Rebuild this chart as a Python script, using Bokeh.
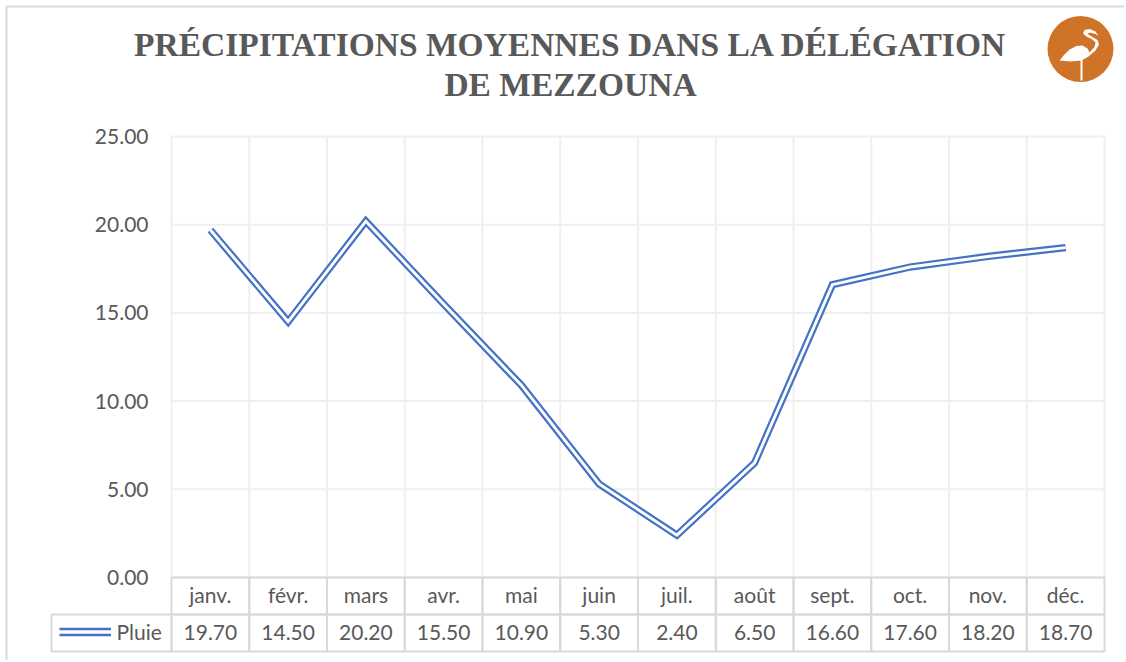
from bokeh.plotting import figure
from bokeh.models import Label, LinearAxis, FixedTicker, Range1d
from bokeh.embed import file_html
from bokeh.resources import INLINE

title_lines = ["PRÉCIPITATIONS MOYENNES DANS LA DÉLÉGATION", "DE MEZZOUNA"]
months = ["janv.", "févr.", "mars", "avr.", "mai", "juin", "juil.", "août", "sept.", "oct.", "nov.", "déc."]
pluie = [19.70, 14.50, 20.20, 15.50, 10.90, 5.30, 2.40, 6.50, 16.60, 17.60, 18.20, 18.70]
series_name = "Pluie"
y_ticks = [0, 5, 10, 15, 20, 25]

TXT = "#595959"
LINE = "#d9d9d9"
GRID = "#efefef"
BLUE = "#4472c4"
ORANGE = "#cf7326"
FONT = "Lato"
W, H = 1124, 660
L, R, T, B = 171, 1104, 136, 577

def X(px):
    return (px - L) / (R - L) * 12
def Y(py):
    return (B - py) / (B - T) * 25

p = figure(width=W, height=H, output_backend="svg", toolbar_location=None,
           x_range=Range1d(X(0), X(W)), y_range=Range1d(Y(H), Y(0)),
           min_border=0, x_axis_location=None, y_axis_location=None, outline_line_color=None,
           margin=(0, 0, 0, 0))
p.grid.visible = False
p.background_fill_color = "white"

yax = LinearAxis(ticker=FixedTicker(ticks=y_ticks), axis_line_color=None, fixed_location=0,
                 major_tick_line_color=None, minor_tick_line_color=None,
                 major_label_text_font=FONT, major_label_text_font_size="21px",
                 major_label_text_color=TXT, major_label_standoff=17,
                 major_label_overrides={t: f"{t:.2f}" for t in y_ticks})
p.add_layout(yax, "left")

centers = [i + 0.5 for i in range(12)]
def below(labels, py, standoff):
    ax = LinearAxis(ticker=FixedTicker(ticks=centers), axis_line_color=None, fixed_location=Y(py),
                    major_tick_line_color=None, minor_tick_line_color=None,
                    major_label_text_font=FONT, major_label_text_font_size="21px",
                    major_label_text_color=TXT, major_label_standoff=standoff,
                    major_label_overrides=dict(zip(centers, labels)))
    p.add_layout(ax, "below")
    return ax
ROW1, ROW2, ROW3 = B, 614, 651
below(months, ROW1, -2)
below([f"{v:.2f}" for v in pluie], ROW2, 4)

# gridlines, only over the plot area
v_edges = list(range(13))
p.segment(x0=v_edges, x1=v_edges, y0=0, y1=25, line_color=GRID, line_width=2)
p.segment(x0=0, x1=12, y0=y_ticks, y1=y_ticks, line_color=GRID, line_width=2)

p.line(centers, pluie, line_color=BLUE, line_width=7.3, line_join="miter", line_cap="butt")
p.line(centers, pluie, line_color="white", line_width=2.9, line_join="miter", line_cap="butt")

# data table
left_edges = list(range(12))
p.quad(left=left_edges, right=[i + 1 for i in left_edges], top=Y(ROW1), bottom=Y(ROW2), fill_alpha=0, line_color=LINE, line_width=2)
p.quad(left=left_edges, right=[i + 1 for i in left_edges], top=Y(ROW2), bottom=Y(ROW3), fill_alpha=0, line_color=LINE, line_width=2)
p.quad(left=[X(51)], right=[0], top=Y(ROW2), bottom=Y(ROW3), fill_alpha=0, line_color=LINE, line_width=2)

# legend key
for yy in (628.5, 634.5):
    p.line([X(59), X(110.5)], [Y(yy), Y(yy)], line_color=BLUE, line_width=2.6)
p.add_layout(Label(x=X(116), y=Y(631), text=series_name,
                   text_font=FONT, text_font_size="21px", text_color=TXT,
                   text_baseline="middle", text_align="left"))

# chart border
p.line([X(6), X(6)], [Y(6), Y(H)], line_color=LINE, line_width=2)
p.line([X(6), X(W)], [Y(6), Y(6)], line_color=LINE, line_width=2)

for line, yy in zip(title_lines, [44, 84]):
    p.add_layout(Label(x=X(570), y=Y(yy), text=line,
                       text_font="Liberation Serif", text_font_style="bold", text_font_size="33.5px",
                       text_color=TXT, text_align="center", text_baseline="middle"))

# logo
p.scatter([X(1080)], [Y(48.5)], marker="circle", size=66, fill_color=ORANGE, line_alpha=0)
body = [(1059, 60), (1063, 55), (1069, 49), (1076, 45.5), (1082, 45), (1087, 48), (1089, 52), (1094, 46.5), (1095, 42),
        (1092, 39), (1086, 36), (1082.5, 33), (1084, 29.5), (1089, 28.5), (1095, 31), (1098, 35.5), (1095, 33.5),
        (1089, 32), (1087, 33.5), (1092, 36.5), (1097, 39.5), (1098.5, 44), (1095, 50), (1088, 56), (1081, 60),
        (1070, 61)]
p.patch([X(a) for a, _ in body], [Y(b) for _, b in body], fill_color="white", line_alpha=0)
p.line([X(1081), X(1081)], [Y(59), Y(80)], line_color="white", line_width=2)

open("out.html", "w").write(file_html(p, INLINE))
